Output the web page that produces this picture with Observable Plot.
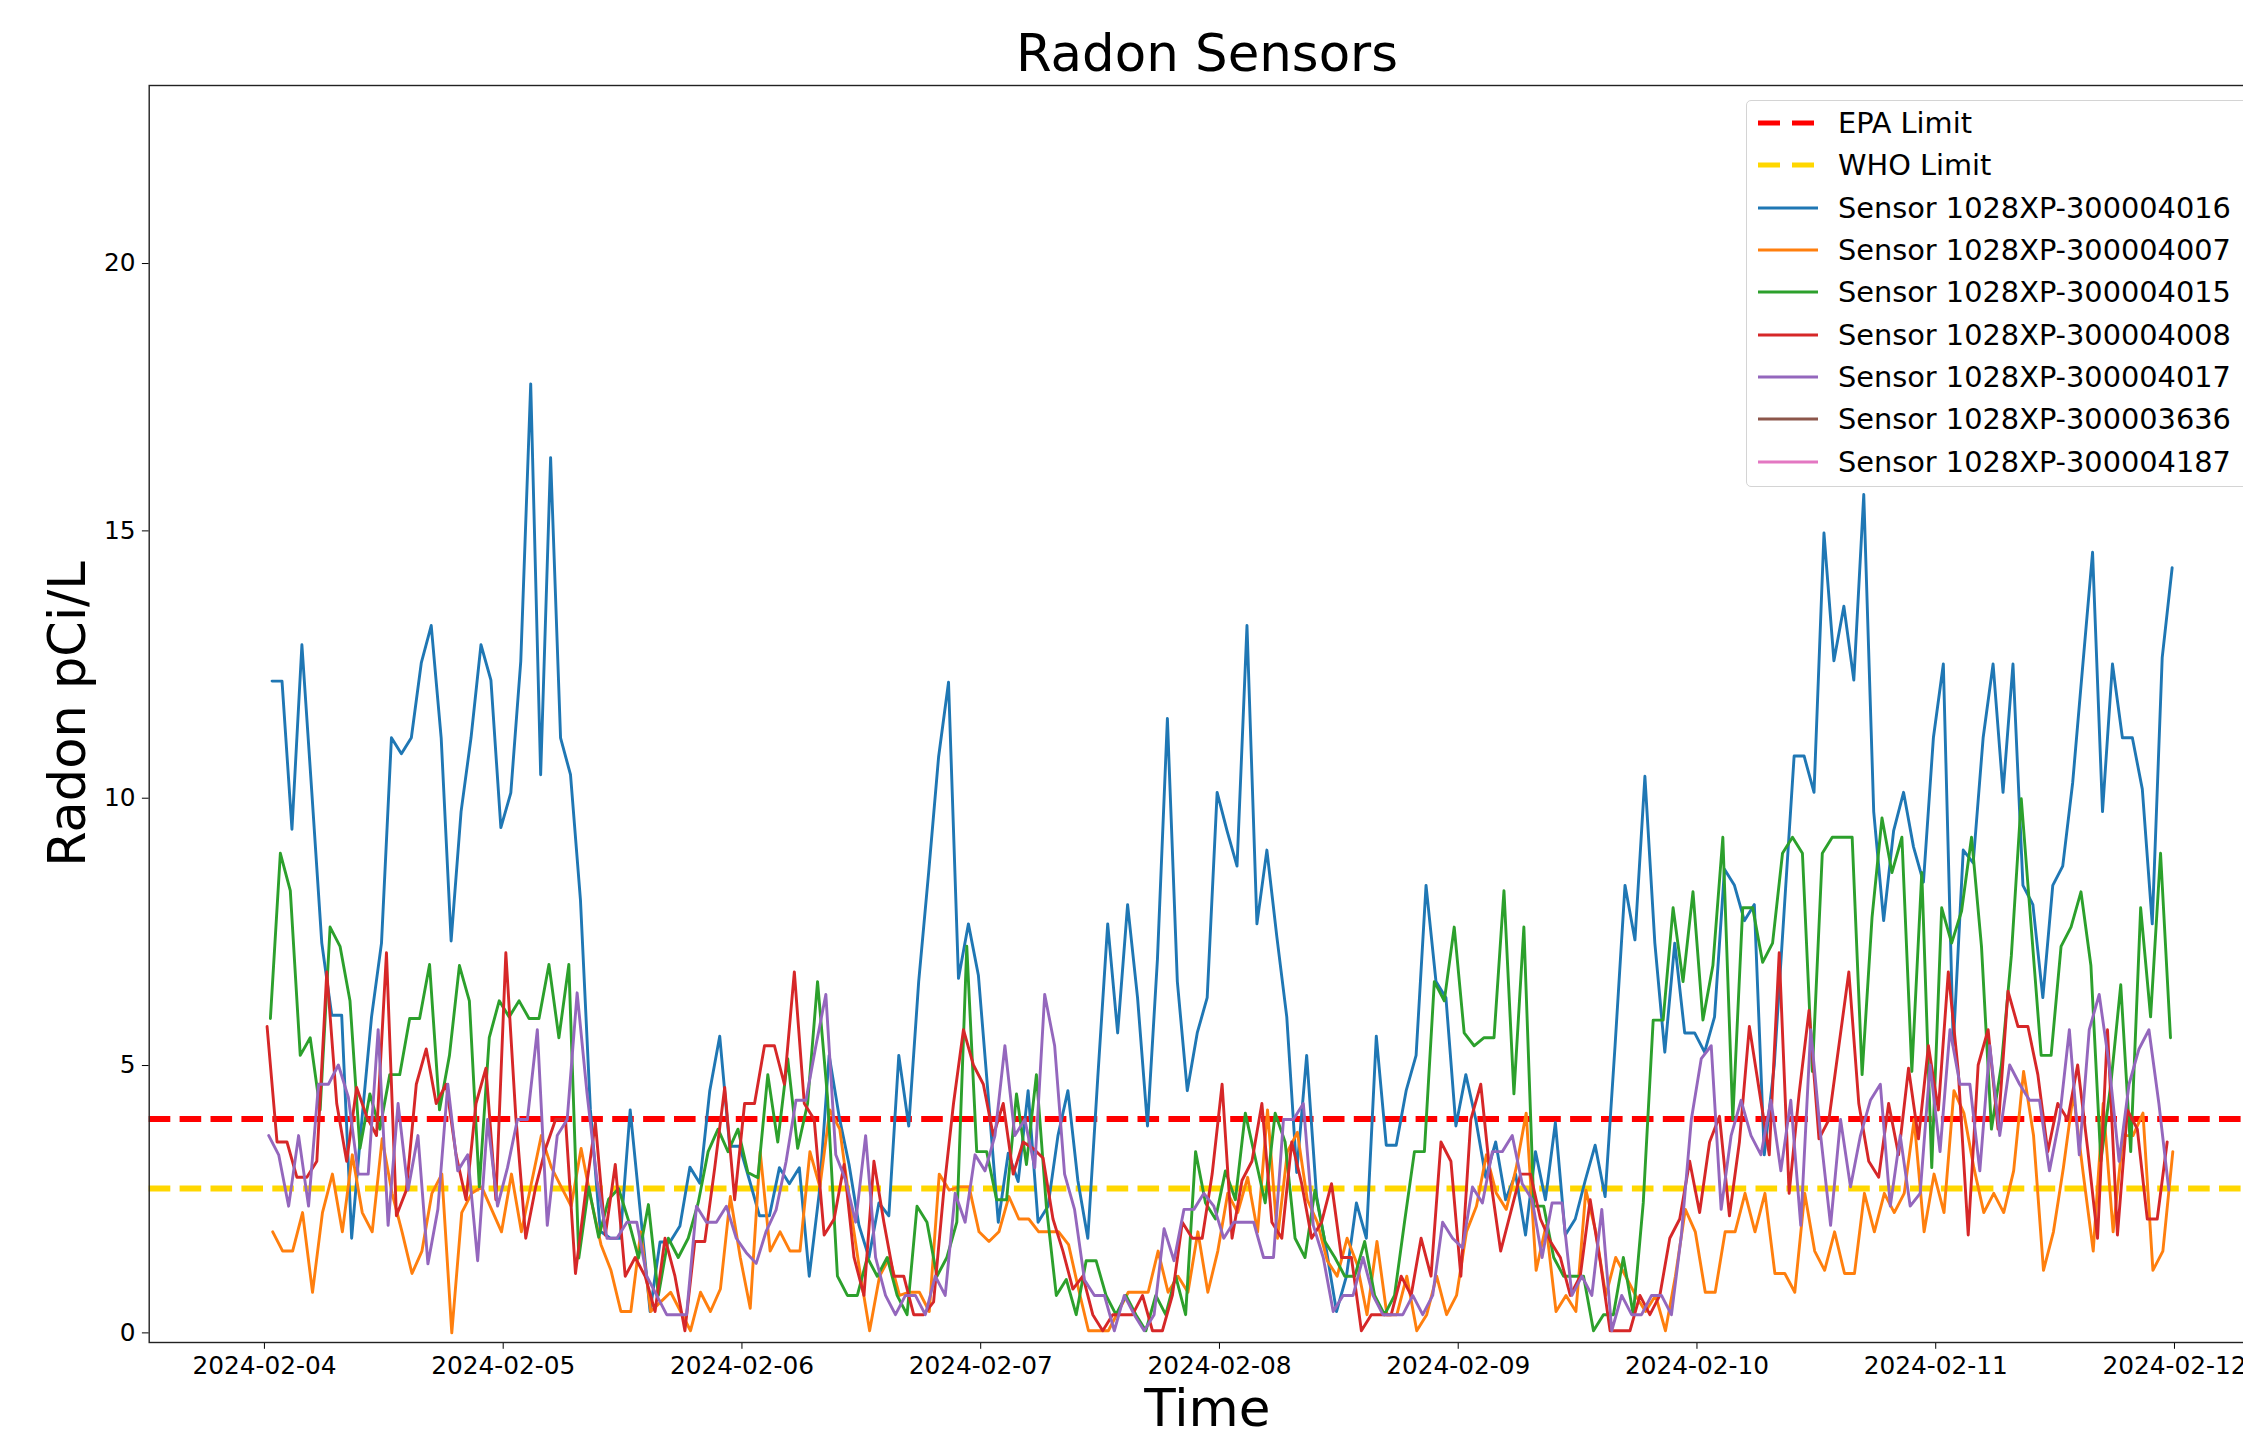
<!DOCTYPE html>
<html>
<head>
<meta charset="utf-8">
<script src="https://cdn.jsdelivr.net/npm/d3@7"></script>
<script src="https://cdn.jsdelivr.net/npm/@observablehq/plot@0.6"></script>
<style>
  html, body { margin: 0; padding: 0; overflow: hidden; background: #fff; }
  #page { position: relative; width: 2243px; height: 1431px; overflow: hidden; font-family: "DejaVu Sans", sans-serif; }
  #title { position: relative; height: 75px; }
  #title span { position: absolute; left: 0; width: 2414px; top: 28px; text-align: center; font-size: 51.4px; line-height: 51.4px; color: #000; }
  #chart svg { max-width: none !important; overflow: visible; }
  #legend { position: absolute; left: 1746px; top: 100px; width: 540px; height: 387px; border: 1.5px solid #d4d4d4; border-radius: 5px; background: rgba(255,255,255,0.8); font-size: 28.8px; color: #000; box-sizing: border-box; padding-top: 1px; }
  .row { height: 42.3px; display: flex; align-items: center; white-space: nowrap; }
  .row svg { margin-left: 10px; margin-right: 19px; flex: none; }
</style>
</head>
<body>
<div id="page">
  <div id="title"><span>Radon Sensors</span></div>
  <div id="chart"></div>
  <div id="legend"></div>
</div>
<script>
// ---- data ----
const sensorNames = [
  "Sensor 1028XP-300004016", "Sensor 1028XP-300004007", "Sensor 1028XP-300004015",
  "Sensor 1028XP-300004008", "Sensor 1028XP-300004017", "Sensor 1028XP-300003636",
  "Sensor 1028XP-300004187"
];
const sensorColors = ["#1f77b4", "#ff7f0e", "#2ca02c", "#d62728", "#9467bd", "#8c564b", "#e377c2"];

// first reading of each hourly series (UTC)
const startTimes = {
  "Sensor 1028XP-300004016": "2024-02-04T00:46:00Z",
  "Sensor 1028XP-300004007": "2024-02-04T00:50:00Z",
  "Sensor 1028XP-300004015": "2024-02-04T00:36:00Z",
  "Sensor 1028XP-300004008": "2024-02-04T00:16:00Z",
  "Sensor 1028XP-300004017": "2024-02-04T00:26:00Z",
  "Sensor 1028XP-300003636": "2024-02-04T00:00:00Z",
  "Sensor 1028XP-300004187": "2024-02-04T00:00:00Z"
};

const radon4016 = [
  12.19, 12.19, 9.42, 12.87, 10.1, 7.29, 5.94, 5.94, 1.77, 3.93, 5.91, 7.29, 11.13, 10.83, 11.13, 12.53, 13.23, 11.13, 7.33, 9.75, 11.13, 12.87, 12.21, 9.45,
  10.1, 12.56, 17.75, 10.44, 16.37, 11.13, 10.44, 8.1, 4.17, 1.9, 1.77, 1.77, 4.17, 2.3, 0.4, 1.7, 1.7, 2.0, 3.1, 2.8, 4.53, 5.55, 3.49, 3.49,
  2.85, 2.19, 2.19, 3.09, 2.79, 3.09, 1.06, 2.61, 5.19, 4.05, 3.15, 2.01, 1.41, 2.43, 2.19, 5.19, 3.87, 6.57, 8.61, 10.77, 12.17, 6.63, 7.65, 6.69,
  4.41, 2.07, 3.36, 2.83, 4.53, 2.07, 2.37, 3.69, 4.53, 2.85, 1.77, 4.77, 7.65, 5.61, 8.01, 6.27, 3.87, 6.99, 11.49, 6.57, 4.53, 5.61, 6.27, 10.11,
  9.39, 8.73, 13.23, 7.65, 9.03, 7.41, 5.91, 3.0, 5.19, 2.55, 1.53, 0.4, 1.06, 2.43, 1.77, 5.55, 3.51, 3.51, 4.53, 5.19, 8.37, 6.57, 6.27, 3.87,
  4.83, 3.99, 2.91, 3.57, 2.49, 2.97, 1.83, 3.39, 2.49, 3.93, 1.83, 2.13, 2.85, 3.51, 2.55, 5.37, 8.37, 7.35, 10.41, 7.29, 5.25, 7.29, 5.61, 5.61,
  5.25, 5.91, 8.67, 8.37, 7.71, 8.01, 3.33, 5.0, 7.9, 10.79, 10.79, 10.11, 14.96, 12.57, 13.59, 12.21, 15.68, 9.75, 7.71, 9.39, 10.11, 9.09, 8.43, 11.13,
  12.51, 5.37, 9.03, 8.79, 11.13, 12.51, 10.11, 12.51, 8.37, 8.01, 6.27, 8.37, 8.73, 10.29, 12.45, 14.6, 9.75, 12.51, 11.13, 11.13, 10.17, 7.65, 12.63, 14.31
];
const radon4007 = [
  1.89, 1.53, 1.53, 2.25, 0.76, 2.25, 2.97, 1.89, 3.33, 2.25, 1.89, 3.63, 2.61, 1.89, 1.11, 1.53, 2.61, 2.97, 0.0, 2.25, 2.61, 2.73, 2.31, 1.89,
  2.97, 1.89, 2.8, 3.69, 3.1, 2.73, 2.37, 3.45, 2.49, 1.65, 1.17, 0.4, 0.4, 1.89, 0.4, 0.58, 0.76, 0.4, 0.04, 0.76, 0.4, 0.82, 2.55, 1.41,
  0.46, 3.39, 1.53, 1.89, 1.53, 1.53, 3.39, 2.73, 4.17, 3.81, 2.43, 1.17, 0.04, 1.06, 1.41, 0.70, 0.76, 0.76, 0.40, 2.97, 2.67, 2.73, 2.73, 1.89,
  1.71, 1.89, 2.55, 2.13, 2.13, 1.89, 1.89, 1.89, 1.65, 0.82, 0.04, 0.04, 0.04, 0.40, 0.76, 0.76, 0.76, 1.53, 0.76, 1.06, 0.76, 1.89, 0.76, 1.53,
  2.61, 2.25, 2.91, 1.89, 4.17, 1.77, 3.39, 3.75, 2.49, 2.07, 1.35, 1.06, 1.77, 1.29, 0.34, 1.71, 0.34, 0.34, 1.06, 0.04, 0.34, 1.06, 0.34, 0.70,
  1.89, 2.37, 3.33, 2.61, 2.31, 3.09, 4.11, 1.17, 2.01, 0.40, 0.70, 0.40, 2.67, 1.89, 0.70, 1.41, 1.06, 0.70, 0.40, 0.70, 0.04, 1.06, 2.31, 1.89,
  0.76, 0.76, 1.89, 1.89, 2.61, 1.89, 2.61, 1.11, 1.11, 0.76, 2.61, 1.53, 1.17, 1.89, 1.11, 1.11, 2.61, 1.89, 2.61, 2.25, 2.61, 3.99, 1.89, 2.97,
  2.25, 4.53, 4.11, 3.09, 2.25, 2.61, 2.25, 3.03, 4.89, 3.69, 1.17, 1.89, 3.09, 4.47, 2.97, 1.53, 4.29, 1.89, 3.69, 3.69, 4.11, 1.17, 1.53, 3.39
];
const radon4015 = [
  5.88, 8.97, 8.27, 5.19, 5.52, 4.17, 7.59, 7.23, 6.21, 3.45, 4.47, 3.81, 4.83, 4.83, 5.88, 5.88, 6.89, 4.17, 5.19, 6.87, 6.21, 2.73, 5.52, 6.21,
  5.91, 6.21, 5.88, 5.88, 6.89, 5.52, 6.89, 1.4, 2.73, 1.79, 2.5, 2.7, 2.1, 1.4, 2.4, 0.7, 1.77, 1.41, 1.77, 2.43, 3.39, 3.81, 3.39, 3.81,
  3.0, 2.9, 4.83, 3.57, 5.13, 3.45, 4.29, 6.57, 4.41, 1.06, 0.70, 0.70, 1.41, 1.06, 1.41, 0.70, 0.34, 2.37, 2.07, 1.06, 1.41, 2.07, 7.23, 3.39,
  3.39, 2.49, 2.49, 4.47, 3.15, 4.83, 2.37, 0.70, 1.0, 0.34, 1.35, 1.35, 0.70, 0.34, 0.70, 0.34, 0.04, 0.70, 0.34, 1.06, 0.34, 3.39, 2.43, 2.13,
  3.03, 2.49, 4.11, 3.27, 2.43, 4.11, 3.57, 1.77, 1.41, 2.67, 1.71, 1.41, 1.06, 1.06, 1.71, 0.70, 0.34, 0.70, 2.07, 3.39, 3.39, 6.57, 6.21, 7.59,
  5.61, 5.37, 5.52, 5.52, 8.27, 4.47, 7.59, 2.37, 2.37, 1.41, 1.06, 1.06, 1.06, 0.04, 0.34, 0.34, 1.41, 0.34, 2.43, 5.85, 5.85, 7.95, 6.57, 8.25,
  5.85, 6.87, 9.27, 3.99, 7.95, 7.95, 6.93, 7.29, 8.97, 9.27, 8.97, 4.89, 8.97, 9.27, 9.27, 9.27, 4.83, 7.77, 9.63, 8.61, 9.27, 4.89, 8.61, 3.09,
  7.95, 7.29, 7.89, 9.27, 7.23, 3.81, 5.01, 7.05, 9.99, 7.59, 5.19, 5.19, 7.23, 7.59, 8.25, 6.87, 3.21, 4.65, 6.51, 3.39, 7.95, 5.91, 8.97, 5.52
];
const radon4008 = [
  5.73, 3.57, 3.57, 2.91, 2.91, 3.21, 6.75, 4.29, 3.21, 4.59, 4.05, 3.69, 7.11, 2.19, 2.67, 4.65, 5.31, 4.29, 4.65, 3.33, 2.49, 4.29, 4.95, 2.49,
  7.11, 4.05, 1.77, 2.73, 3.45, 3.99, 3.99, 1.11, 2.61, 3.93, 1.83, 3.15, 1.06, 1.41, 1.06, 0.4, 1.77, 1.06, 0.04, 1.71, 1.71, 3.09, 4.59, 2.49,
  4.29, 4.29, 5.37, 5.37, 4.65, 6.75, 4.29, 3.99, 1.83, 2.13, 3.15, 1.41, 0.70, 3.21, 2.07, 1.06, 1.06, 0.34, 0.34, 0.58, 2.61, 4.29, 5.67, 5.01,
  4.65, 3.69, 4.29, 2.97, 3.57, 3.45, 3.27, 2.13, 1.53, 0.82, 1.06, 0.34, 0.04, 0.34, 0.34, 0.34, 0.70, 0.04, 0.04, 0.70, 2.07, 1.77, 1.77, 2.97,
  4.65, 1.77, 2.85, 3.21, 4.29, 2.07, 1.77, 3.57, 2.79, 1.77, 2.07, 2.79, 1.41, 1.41, 0.04, 0.34, 0.34, 0.34, 1.06, 0.70, 1.77, 1.06, 3.57, 3.21,
  1.06, 3.99, 4.65, 2.85, 1.53, 2.25, 2.97, 2.97, 2.13, 1.71, 1.41, 0.70, 1.06, 2.49, 1.35, 0.04, 0.04, 0.04, 0.70, 0.34, 0.70, 1.77, 2.13, 3.21,
  2.25, 3.57, 4.05, 2.19, 3.57, 5.73, 4.53, 3.33, 7.11, 2.61, 4.47, 6.03, 3.63, 3.99, 5.37, 6.75, 4.29, 3.21, 2.91, 4.29, 3.33, 4.95, 3.63, 5.37,
  4.17, 6.75, 4.89, 1.83, 5.01, 5.67, 3.81, 6.39, 5.73, 5.73, 4.83, 3.39, 4.29, 3.99, 5.01, 3.45, 1.77, 5.67, 1.83, 4.17, 3.81, 2.13, 2.13, 3.57
];
const radon4017 = [
  3.69, 3.33, 2.37, 3.69, 2.37, 4.65, 4.65, 5.01, 4.41, 2.97, 2.97, 5.67, 2.01, 4.29, 2.67, 3.69, 1.29, 2.31, 4.65, 3.03, 3.33, 1.35, 3.99, 2.37,
  3.09, 3.99, 3.99, 5.67, 2.01, 3.69, 3.99, 6.36, 4.47, 2.85, 1.77, 1.77, 2.07, 2.07, 1.06, 0.70, 0.34, 0.34, 0.34, 2.37, 2.07, 2.07, 2.37, 1.77,
  1.5, 1.3, 1.9, 2.3, 3.2, 4.35, 4.35, 5.37, 6.33, 3.33, 2.85, 2.07, 3.69, 1.41, 0.7, 0.34, 0.7, 0.7, 0.34, 1.06, 0.7, 2.61, 2.07, 3.33,
  3.03, 3.69, 5.37, 3.69, 3.99, 3.09, 6.33, 5.37, 2.97, 2.31, 0.99, 0.70, 0.70, 0.04, 0.70, 0.34, 0.04, 0.34, 1.95, 1.35, 2.31, 2.31, 2.61, 2.37,
  1.77, 2.07, 2.07, 2.07, 1.41, 1.41, 3.99, 3.99, 4.29, 2.01, 1.41, 0.40, 0.70, 0.70, 1.41, 0.70, 0.34, 0.34, 0.34, 0.70, 0.34, 0.70, 2.07, 1.77,
  1.59, 2.73, 2.43, 3.39, 3.39, 3.69, 2.79, 2.49, 1.41, 2.43, 2.43, 0.70, 1.06, 0.70, 2.31, 0.04, 0.70, 0.34, 0.34, 0.70, 0.70, 0.34, 1.83, 3.99,
  5.13, 5.37, 2.31, 3.69, 4.35, 3.69, 3.33, 4.35, 3.03, 4.35, 2.01, 5.67, 3.69, 2.01, 3.99, 2.73, 3.69, 4.35, 4.65, 2.37, 3.69, 2.37, 2.61, 5.01,
  3.39, 5.67, 4.65, 4.65, 3.03, 5.37, 3.69, 5.01, 4.65, 4.35, 4.35, 3.03, 3.99, 5.67, 3.33, 5.67, 6.33, 5.01, 3.21, 4.65, 5.31, 5.67, 4.29, 2.67
];
const radon3636 = [];
const radon4187 = [];

const limitNames = ["EPA Limit", "WHO Limit"];
const limitValues = [4.0, 2.7];
const limitColors = ["#ff0000", "#ffd700"];

const xTickLabels = ["2024-02-04", "2024-02-05", "2024-02-06", "2024-02-07", "2024-02-08", "2024-02-09", "2024-02-10", "2024-02-11", "2024-02-12"];
const yTickValues = [0, 5, 10, 15, 20];

// ---- build the table Plot needs ----
const seriesValues = [radon4016, radon4007, radon4015, radon4008, radon4017, radon3636, radon4187];
const rows = [];
sensorNames.forEach((name, k) => {
  const t0 = new Date(startTimes[name]).getTime();
  seriesValues[k].forEach((v, i) => rows.push({sensor: name, time: new Date(t0 + i * 3600e3), value: v}));
});
const limits = limitNames.map((n, i) => ({name: n, value: limitValues[i], color: limitColors[i]}));
const xTicks = xTickLabels.map(s => new Date(s + "T00:00:00Z"));

const chart = Plot.plot({
  width: 2300,
  height: 1356,
  marginLeft: 148.7,
  marginRight: 35,
  marginTop: 10,
  marginBottom: 89,
  style: {fontFamily: "DejaVu Sans", fontSize: "24.8px", color: "#000", background: "white", maxWidth: "none", overflow: "visible"},
  x: {
    type: "utc",
    domain: [new Date("2024-02-03T12:25:00Z"), new Date("2024-02-12T09:09:00Z")],
    ticks: xTicks,
    tickFormat: d3.utcFormat("%Y-%m-%d"),
    tickSize: 6.8,
    tickPadding: 6.8,
    label: null
  },
  y: {
    domain: [-0.18, 23.33],
    ticks: yTickValues,
    tickSize: 6.8,
    tickPadding: 6.8,
    label: null
  },
  color: {domain: sensorNames, range: sensorColors},
  marks: [
    Plot.ruleY(limits.slice(0, 1), {y: "value", stroke: d => d.color, strokeWidth: 5.8, strokeDasharray: "21.6 9.3"}),
    Plot.ruleY(limits.slice(1, 2), {y: "value", stroke: d => d.color, strokeWidth: 5.8, strokeDasharray: "21.6 9.3"}),
    ...sensorNames.map(name => Plot.line(rows.filter(r => r.sensor === name), {x: "time", y: "value", stroke: "sensor", strokeWidth: 2.9, strokeLinejoin: "round"})),
    Plot.frame({stroke: "#222", strokeWidth: 1.4}),
    Plot.text(["Time"], {frameAnchor: "bottom", textAnchor: "middle", lineAnchor: "bottom", dy: 83, fontSize: 51.5, fill: "#000"}),
    Plot.text(["Radon pCi/L"], {frameAnchor: "left", textAnchor: "middle", lineAnchor: "bottom", rotate: -90, dx: -64.7, fontSize: 51, fill: "#000"})
  ]
});
document.getElementById("chart").appendChild(chart);

// ---- legend (matplotlib style, inside the axes at upper right) ----
const legend = d3.select("#legend");
const entries = limits.map(l => ({label: l.name, color: l.color, dashed: true}))
  .concat(sensorNames.map((n, i) => ({label: n, color: sensorColors[i], dashed: false})));
entries.forEach(e => {
  const row = legend.append("div").attr("class", "row");
  const s = row.append("svg").attr("width", 62).attr("height", 12);
  s.append("line").attr("x1", 1).attr("x2", 61).attr("y1", 6).attr("y2", 6)
    .attr("stroke", e.color)
    .attr("stroke-width", e.dashed ? 5 : 2.9)
    .attr("stroke-dasharray", e.dashed ? "22 12" : null);
  row.append("span").text(e.label);
});
</script>
</body>
</html>
